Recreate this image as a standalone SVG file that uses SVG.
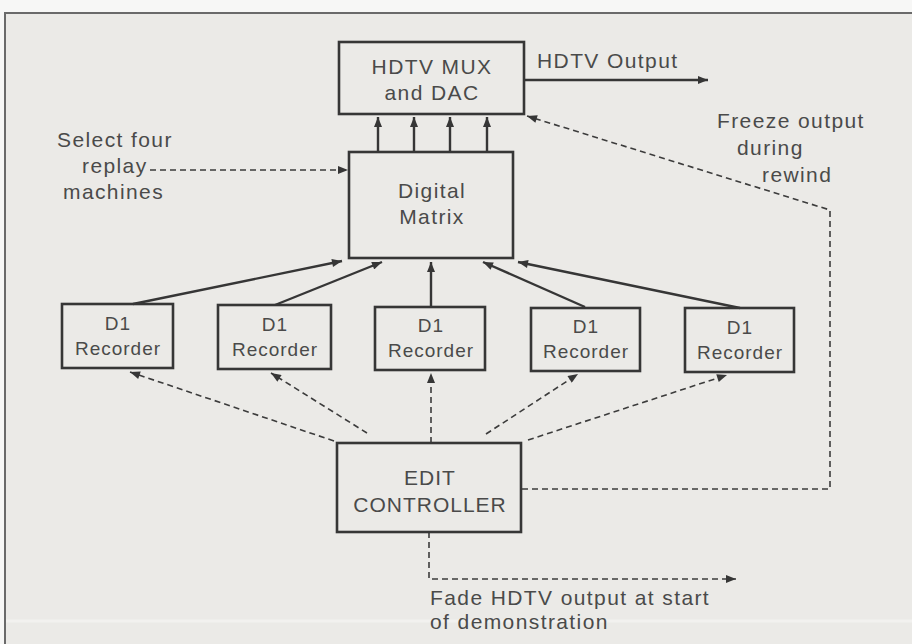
<svg xmlns="http://www.w3.org/2000/svg" width="912" height="644" viewBox="0 0 912 644">
  <defs>
    <style>
      .box { fill: none; stroke: #363636; stroke-width: 2.6; }
      .solid { fill: none; stroke: #363636; stroke-width: 2.4; }
      .dash { fill: none; stroke: #3c3c3c; stroke-width: 1.6; stroke-dasharray: 6 4; }
      text { font-family: "Liberation Sans", Arial, sans-serif; fill: #4a4a4a; }
      .lbl { font-size: 21px; letter-spacing: 1.4px; }
      .ctr { text-anchor: middle; }
      .rec { font-size: 19px; letter-spacing: 1px; text-anchor: middle; }
      .ed { font-size: 21px; letter-spacing: 1px; text-anchor: middle; }
    </style>
    <marker id="ah" viewBox="0 0 10 8" refX="10" refY="4" markerWidth="11" markerHeight="8" orient="auto" markerUnits="userSpaceOnUse">
      <path d="M0,0 L10,4 L0,8 z" fill="#363636"/>
    </marker>
  </defs>

  <!-- page background and frame -->
  <rect x="0" y="0" width="912" height="644" fill="#f7f7f6"/>
  <rect x="5" y="13" width="907" height="631" fill="#ebeae7"/>
  <line x1="5" y1="621" x2="912" y2="621" stroke="#f2f1ef" stroke-width="3"/>
  <path d="M5,644 V13 H912" fill="none" stroke="#6a6a6a" stroke-width="2"/>

  <!-- connectors -->
  <g id="connectors">
    <!-- Digital Matrix to HDTV MUX -->
    <line class="solid" x1="378" y1="152" x2="378" y2="117" marker-end="url(#ah)"/>
    <line class="solid" x1="414" y1="152" x2="414" y2="117" marker-end="url(#ah)"/>
    <line class="solid" x1="450" y1="152" x2="450" y2="117" marker-end="url(#ah)"/>
    <line class="solid" x1="487" y1="152" x2="487" y2="117" marker-end="url(#ah)"/>
    <!-- HDTV output -->
    <line class="solid" x1="524" y1="80" x2="708" y2="80" marker-end="url(#ah)"/>
    <!-- select four replay machines -->
    <line class="dash" x1="150" y1="170" x2="348" y2="170" marker-end="url(#ah)"/>
    <!-- recorders to matrix -->
    <line class="solid" x1="133" y1="304" x2="342" y2="261" marker-end="url(#ah)"/>
    <line class="solid" x1="275" y1="305" x2="382" y2="262" marker-end="url(#ah)"/>
    <line class="solid" x1="431" y1="307" x2="431" y2="262" marker-end="url(#ah)"/>
    <line class="solid" x1="585" y1="307" x2="483" y2="262" marker-end="url(#ah)"/>
    <line class="solid" x1="740" y1="308" x2="518" y2="262" marker-end="url(#ah)"/>
    <!-- edit controller to recorders -->
    <line class="dash" x1="334" y1="441" x2="130" y2="372" marker-end="url(#ah)"/>
    <line class="dash" x1="367" y1="433" x2="271" y2="373" marker-end="url(#ah)"/>
    <line class="dash" x1="431" y1="443" x2="431" y2="373" marker-end="url(#ah)"/>
    <line class="dash" x1="486" y1="434" x2="578" y2="374" marker-end="url(#ah)"/>
    <line class="dash" x1="528" y1="440" x2="727" y2="375" marker-end="url(#ah)"/>
    <!-- freeze output during rewind -->
    <path class="dash" d="M522,489 H830 V210 L527,116" marker-end="url(#ah)"/>
    <!-- fade HDTV output -->
    <path class="dash" d="M429,532 V579 H736" marker-end="url(#ah)"/>
  </g>

  <!-- nodes -->
  <g id="hdtv-mux">
    <rect class="box" x="339" y="42" width="185" height="72"/>
    <text class="lbl ctr" x="432" y="74">HDTV MUX</text>
    <text class="lbl ctr" x="432" y="100">and DAC</text>
  </g>

  <g id="digital-matrix">
    <rect class="box" x="349" y="152" width="164" height="106"/>
    <text class="lbl ctr" x="432" y="198">Digital</text>
    <text class="lbl ctr" x="432" y="224">Matrix</text>
  </g>

  <g id="recorder-1">
    <rect class="box" x="62" y="304" width="111" height="64"/>
    <text class="rec" x="118" y="330">D1</text>
    <text class="rec" x="118" y="355">Recorder</text>
  </g>
  <g id="recorder-2">
    <rect class="box" x="218" y="305" width="113" height="64"/>
    <text class="rec" x="275" y="331">D1</text>
    <text class="rec" x="275" y="356">Recorder</text>
  </g>
  <g id="recorder-3">
    <rect class="box" x="375" y="307" width="110" height="63"/>
    <text class="rec" x="431" y="332">D1</text>
    <text class="rec" x="431" y="357">Recorder</text>
  </g>
  <g id="recorder-4">
    <rect class="box" x="531" y="308" width="109" height="63"/>
    <text class="rec" x="586" y="333">D1</text>
    <text class="rec" x="586" y="358">Recorder</text>
  </g>
  <g id="recorder-5">
    <rect class="box" x="685" y="308" width="109" height="64"/>
    <text class="rec" x="740" y="334">D1</text>
    <text class="rec" x="740" y="359">Recorder</text>
  </g>

  <g id="edit-controller">
    <rect class="box" x="337" y="443" width="184" height="89"/>
    <text class="ed" x="430" y="485">EDIT</text>
    <text class="ed" x="430" y="512">CONTROLLER</text>
  </g>

  <!-- free labels -->
  <g id="labels">
    <text class="lbl" x="57" y="147">Select four</text>
    <text class="lbl" x="82" y="173">replay</text>
    <text class="lbl" x="63" y="199">machines</text>
    <text class="lbl" x="537" y="68">HDTV Output</text>
    <text class="lbl" x="717" y="128">Freeze output</text>
    <text class="lbl" x="737" y="155">during</text>
    <text class="lbl" x="762" y="182">rewind</text>
    <text class="lbl" x="430" y="605">Fade HDTV output at start</text>
    <text class="lbl" x="430" y="629">of demonstration</text>
  </g>
</svg>
